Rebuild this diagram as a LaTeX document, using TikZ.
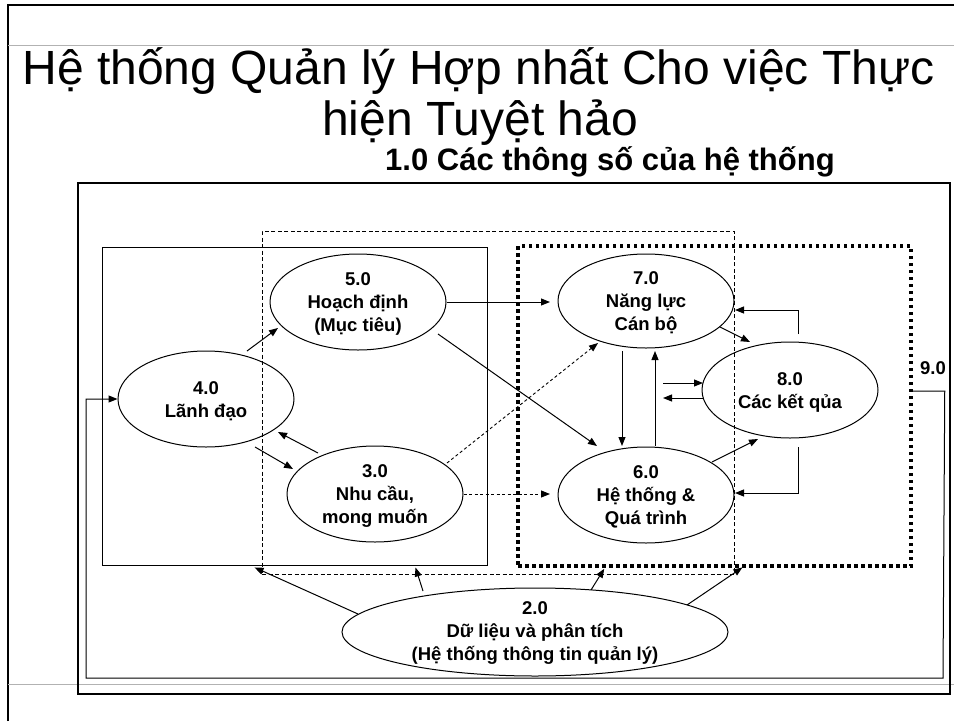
\documentclass[tikz,border=0pt]{standalone}
\usepackage{fontspec}
\setmainfont{Liberation Sans}
\usetikzlibrary{arrows.meta,calc,shapes.geometric}
\begin{document}
\begin{tikzpicture}[x=1pt,y=-1pt,
  ell/.style={draw, ellipse, line width=1pt, minimum width=176pt, minimum height=96pt, inner sep=0pt},
  etext/.style={font=\bfseries\fontsize{18.5}{23}\selectfont, align=center, inner sep=0pt},
  arr/.style={line width=1pt, -{Triangle[length=9pt,width=7pt]}},
  darr/.style={arr, line width=0.9pt, dash pattern=on 3pt off 2.5pt},
  boxstyle/.style={draw, inner sep=0pt, line width=1pt},
  dashbox/.style={boxstyle, line width=0.9pt, dash pattern=on 4pt off 2.5pt},
  dotbox/.style={draw, inner sep=0pt, line width=3.5pt, dash pattern=on 3.5pt off 3.5pt},
  graybar/.style={draw=black!30, line width=1pt}]
\useasboundingbox (0,0) rectangle (954,721);
% slide frame
\draw[line width=2.5pt] (8,721) -- (8,5) -- (954,5);
\draw[graybar] (8,45) -- (954,45);
\draw[graybar] (8,684) -- (954,684);
% titles
\node[anchor=base, font=\fontsize{48}{52}\selectfont, inner sep=0pt] (title1) at (478.5,84) {Hệ thống Quản lý Hợp nhất Cho việc Thực};
\node[anchor=base, font=\fontsize{48}{52}\selectfont, inner sep=0pt] (title2) at (480,135) {hiện Tuyệt hảo};
\node[anchor=base, font=\bfseries\fontsize{31}{35}\selectfont, inner sep=0pt] (sub) at (610,170) {1.0 Các thông số của hệ thống};
% boxes
\node[draw, inner sep=0pt, line width=1.8pt, minimum width=872pt, minimum height=511pt] (boxO) at (514,438.5) {};
\node[boxstyle, minimum width=385pt, minimum height=318pt] (boxL) at (294.5,406) {};
\node[dashbox, minimum width=472pt, minimum height=343pt] (boxD) at (498,402.5) {};
\node[dotbox, minimum width=393pt, minimum height=320pt] (boxT) at (714.5,406) {};
% ellipses
\node[ell] (n5) at (358,302) {};
\node[ell] (n4) at (206,399) {};
\node[ell] (n3) at (375,494) {};
\node[ell, minimum height=94pt] (n7) at (646,301) {};
\node[ell] (n6) at (646,495) {};
\node[ell] (n8) at (790,390) {};
\node[ell, minimum width=386pt, minimum height=88pt] (n2) at (535,632) {};
% texts
\node[etext] (t5) at ($(n5)+(0,2)$) {5.0\\Hoạch định\\(Mục tiêu)};
\node[etext] (t4) at ($(n4)+(0,2)$) {4.0\\Lãnh đạo};
\node[etext] (t3) at ($(n3)+(0,2)$) {3.0\\Nhu cầu,\\mong muốn};
\node[etext] (t7) at ($(n7)+(0,2)$) {7.0\\Năng lực\\Cán bộ};
\node[etext] (t6) at ($(n6)+(0,2)$) {6.0\\Hệ thống \&\\Quá trình};
\node[etext] (t8) at ($(n8)+(0,2)$) {8.0\\Các kết qủa};
\node[etext] (t2) at ($(n2)+(0,1)$) {2.0\\Dữ liệu và phân tích\\(Hệ thống thông tin quản lý)};
\node[etext] (t9) at (933,368) {9.0};
% connectors
\draw[arr] ($(n4)+(41,-48)$) -- ($(n5)+(-80,26)$);
\draw[arr] ($(n3)+(-57,-41)$) -- ($(n4)+(72,33)$);
\draw[arr] ($(n4)+(49,48)$) -- ($(n3)+(-82,-25)$);
\draw[arr] (n5.east) -- ($(n7)+(-96,1)$);
\draw[arr] ($(n5)+(80,32)$) -- ($(n6)+(-49,-49)$);
\draw[darr] ($(n3)+(72,-31)$) -- ($(n7)+(-48,42)$);
\draw[darr] (n3.east) -- ($(n6)+(-96,-1)$);
\draw[arr] ($(n7)+(-24,50)$) -- ($(n6)+(-24,-49)$);
\draw[arr] ($(n6)+(9,-49)$) -- ($(n7)+(9,50)$);
\coordinate (a8in) at ($(n8)+(-127,-7)$);
\coordinate (a8out) at ($(n8)+(-127,8)$);
\draw[arr] (a8in) -- ($(n8)+(-87,-7)$);
\draw[arr] ($(n8)+(-87,8)$) -- (a8out);
\draw[arr] ($(n7)+(74,26)$) -- ($(n8)+(-40,-48)$);
\draw[arr] ($(n6)+(66,-33)$) -- ($(n8)+(-32,49)$);
\draw[arr] ($(n8)+(8,-56)$) |- ($(n7)+(89,9)$);
\draw[arr] ($(n8)+(8,57)$) |- ($(n6)+(89,-2)$);
\draw[arr] ($(n2)+(-177,-18)$) -- ($(boxD.south west)+(-7,-7)$);
\draw[arr] ($(n2)+(-112,-41)$) -- ($(boxL.south east)+(-72,2)$);
\draw[arr] ($(n2)+(56,-42)$) -- ($(boxT.south west)+(88,1)$);
\draw[arr] ($(n2)+(152,-27)$) -- ($(boxD.south east)+(8,-7)$);
\draw[arr] ($(boxT.east)+(0,-15)$) -- ++(32,0) -- (943,678) -- (86,678) -- (86,399) -- (n4.west);
\end{tikzpicture}
\end{document}
